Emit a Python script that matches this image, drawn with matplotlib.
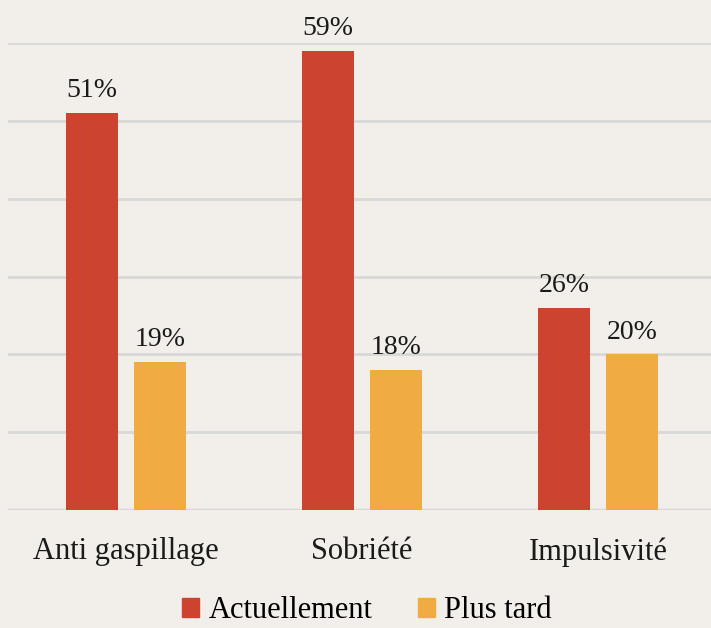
import matplotlib.pyplot as plt
import numpy as np
from matplotlib.patches import Patch

categories = ["Anti gaspillage", "Sobriété", "Impulsivité"]
actuellement = [51, 59, 26]
plus_tard = [19, 18, 20]
series_names = ["Actuellement", "Plus tard"]

bg = "#f2eeea"
red = "#cc4430"
orange = "#f0ac42"

plt.rcParams["font.family"] = ["Liberation Serif", "DejaVu Serif"]

fig = plt.figure(figsize=(7.11, 6.28), dpi=100, facecolor=bg)
W, H = 711, 628
# axes: x from 8px to 716px, y from 0 at 510px to 60 at 43px
ax = fig.add_axes([8 / W, (H - 510) / H, 708 / W, (510 - 43) / H], facecolor=bg)

x = np.arange(len(categories))
bw = 52 / 236
off = 34 / 236
b1 = ax.bar(x - off, actuellement, bw, color=red, zorder=3)
b2 = ax.bar(x + off, plus_tard, bw, color=orange, zorder=3)

for bars, vals in [(b1, actuellement), (b2, plus_tard)]:
    for b, v in zip(bars, vals):
        ax.annotate(f"{v}%", (b.get_x() + b.get_width() / 2, v),
                    xytext=(0, 7), textcoords="offset points",
                    ha="center", va="bottom", fontsize=20, color="#1a1a1a",
                    annotation_clip=False)

ax.set_xlim(-0.5, 2.5)
ax.set_ylim(0, 60)
ax.set_yticks(range(0, 61, 10))
ax.yaxis.grid(True, color="#d8d8d8", linewidth=2, zorder=0)
ax.tick_params(axis="y", left=False, labelleft=False)
ax.tick_params(axis="x", bottom=False, labelsize=22, pad=16, colors="#1a1a1a")
ax.set_xticks(x)
ax.set_xticklabels(categories)
for s in ax.spines.values():
    s.set_visible(False)
ax.axhline(0, color="#d8d8d8", linewidth=2.5, zorder=2)

handles = [Patch(color=red), Patch(color=orange)]
fig.legend(handles, series_names, loc="center", bbox_to_anchor=(367 / W, 1 - 611 / H),
           ncol=2, frameon=False, fontsize=22, handlelength=0.55, handleheight=0.55,
           handletextpad=0.3, columnspacing=1.5, borderaxespad=0)

fig.savefig("out.png", dpi=100, facecolor=bg)
